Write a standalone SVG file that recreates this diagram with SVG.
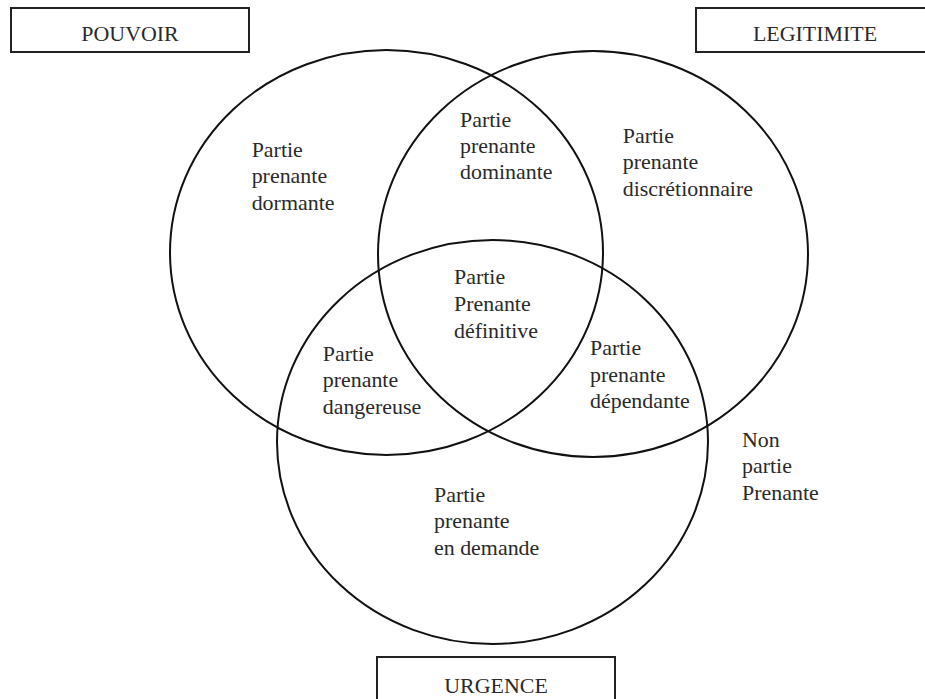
<svg xmlns="http://www.w3.org/2000/svg" width="925" height="699" viewBox="0 0 925 699">
<style>
.bg{fill:#ffffff}
.circ{fill:none;stroke:#111;stroke-width:2}
.box{fill:#ffffff;stroke:#222;stroke-width:2}
.t{font-family:"Liberation Serif","Times New Roman",serif;font-size:20.5px;fill:#2a2a2a}
.c{text-anchor:middle}
</style>
<rect class="bg" x="0" y="0" width="925" height="699"/>
<g id="circle-pouvoir"><ellipse class="circ" cx="386.5" cy="252.5" rx="216.5" ry="202.5"/></g>
<g id="circle-legitimite"><ellipse class="circ" cx="593" cy="254" rx="215" ry="203"/></g>
<g id="circle-urgence"><ellipse class="circ" cx="492.5" cy="442" rx="215.5" ry="202"/></g>
<g id="box-pouvoir"><rect class="box" x="11" y="8" width="238" height="44"/></g>
<g id="box-legitimite"><rect class="box" x="696" y="8" width="238" height="44"/></g>
<g id="box-urgence"><rect class="box" x="377" y="657" width="238" height="44"/></g>
<g transform="scale(1.07 1)">
<g id="label-pouvoir"><text class="t c" x="121.5" y="41">POUVOIR</text></g>
<g id="label-legitimite"><text class="t c" x="761.7" y="41">LEGITIMITE</text></g>
<g id="label-urgence"><text class="t c" x="463.6" y="693">URGENCE</text></g>
<g id="dormante"><text class="t" x="235.2" y="157"><tspan x="235.2">Partie</tspan><tspan x="235.2" dy="26.5">prenante</tspan><tspan x="235.2" dy="26.5">dormante</tspan></text></g>
<g id="dominante"><text class="t" x="429.9" y="127.3"><tspan x="429.9">Partie</tspan><tspan x="429.9" dy="26">prenante</tspan><tspan x="429.9" dy="26">dominante</tspan></text></g>
<g id="discretionnaire"><text class="t" x="582" y="142.7"><tspan x="582">Partie</tspan><tspan x="582" dy="26.6">prenante</tspan><tspan x="582" dy="26.6">discrétionnaire</tspan></text></g>
<g id="definitive"><text class="t" x="424.3" y="284.3"><tspan x="424.3">Partie</tspan><tspan x="424.3" dy="26.7">Prenante</tspan><tspan x="424.3" dy="26.7">définitive</tspan></text></g>
<g id="dangereuse"><text class="t" x="301.6" y="360.7"><tspan x="301.6">Partie</tspan><tspan x="301.6" dy="26.5">prenante</tspan><tspan x="301.6" dy="26.5">dangereuse</tspan></text></g>
<g id="dependante"><text class="t" x="551.4" y="355"><tspan x="551.4">Partie</tspan><tspan x="551.4" dy="26.6">prenante</tspan><tspan x="551.4" dy="26.6">dépendante</tspan></text></g>
<g id="en-demande"><text class="t" x="405.6" y="501.7"><tspan x="405.6">Partie</tspan><tspan x="405.6" dy="26.6">prenante</tspan><tspan x="405.6" dy="26.6">en demande</tspan></text></g>
<g id="non-partie"><text class="t" x="693.5" y="447"><tspan x="693.5">Non</tspan><tspan x="693.5" dy="26.5">partie</tspan><tspan x="693.5" dy="26.5">Prenante</tspan></text></g>
</g>
</svg>
